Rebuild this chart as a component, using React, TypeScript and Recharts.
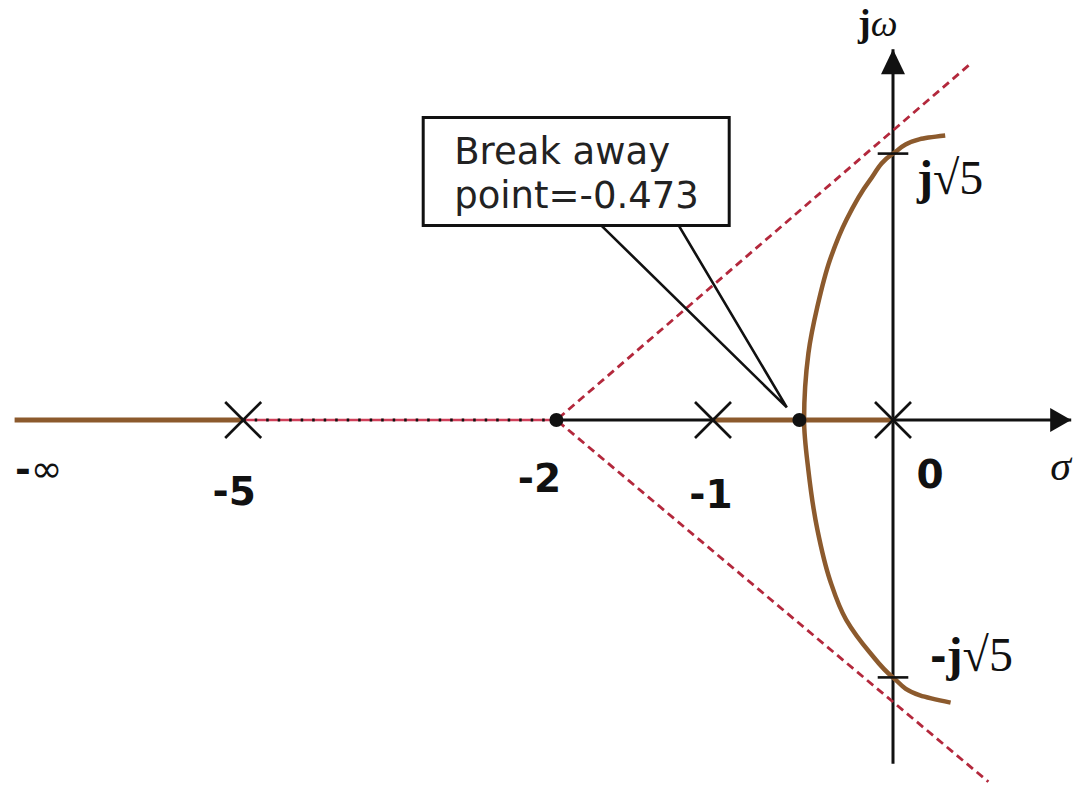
import React from 'react';
import { ComposedChart, Line, Scatter, XAxis, YAxis, ReferenceArea } from 'recharts';

// The sketch is not to scale, so everything is in "sketch units" read off the picture:
// origin at 0, and the pole at -1 sits one unit to the left.
const realLabels = ['-∞', '-5', '-2', '-1', '0'];
const realLabelPos = [-4.88, -3.61, -1.87, -1.0, 0];

const polePos = [-3.61, -1.0, 0];
const locusStart = -4.88;
const centroidPos = -1.87;
const breakawayPos = -0.52;
const breakawayNote = ['Break away', 'point=-0.473'];

const realAxisEnd = 0.99;
const imagAxisTop = 2.06;
const imagAxisBottom = -1.91;
const crossingLabels = ['j√5', '-j√5'];
const crossingPos = [1.48, -1.43];

// complex branch from the top end down through the real axis to the bottom end
const arcX = [0.29, 0.15, 0, -0.13, -0.26, -0.35, -0.42, -0.47, -0.494, -0.47, -0.42, -0.35, -0.26, -0.13, 0, 0.15, 0.32];
const arcY = [1.58, 1.56, 1.48, 1.33, 1.11, 0.89, 0.63, 0.37, 0, -0.28, -0.61, -0.89, -1.11, -1.29, -1.43, -1.53, -1.57];

// asymptote far ends (both start at the centroid)
const asymUpper = [0.42, 1.97];
const asymLower = [0.53, -2.01];

// callout box and its pointer
const noteBoxX = [-2.61, -0.91];
const noteBoxY = [1.08, 1.68];
const pointerX = [-1.62, -0.59, -1.19];
const pointerY = [1.08, 0.07, 1.08];

const BROWN = '#8c5a2d';
const RED = '#b3283c';
const INK = '#111';
const SANS = '"DejaVu Sans", Verdana, sans-serif';
const SERIF = '"Liberation Serif", "DejaVu Serif", serif';

const pt = (x: number, y: number) => ({ x, y });

const leftLocus = [pt(locusStart, 0), pt(polePos[0], 0)];
const midLocus = [pt(polePos[1], 0), pt(polePos[2], 0)];
const dottedSpan = [pt(polePos[0], 0), pt(centroidPos, 0)];
const realAxis = [pt(centroidPos, 0), pt(realAxisEnd, 0)];
const imagAxis = [pt(0, imagAxisBottom), pt(0, imagAxisTop)];
const asymptotes = [pt(asymUpper[0], asymUpper[1]), pt(centroidPos, 0), pt(asymLower[0], asymLower[1])];
const arc = arcX.map((x, i) => pt(x, arcY[i]));
const pointer = pointerX.map((x, i) => pt(x, pointerY[i]));
const poles = polePos.map((x) => pt(x, 0));
const dots = [pt(centroidPos, 0), pt(breakawayPos, 0)];
const tickW = 0.085;

const realNudge: Record<string, [number, number]> = {
  '-∞': [24, 62],
  '-5': [-9, 85],
  '-2': [-17, 72],
  '-1': [-2, 88],
  '0': [37, 68],
};

const Cross = (p: any) => (
  <g stroke={INK} strokeWidth={2.6}>
    <line x1={p.cx - 18} y1={p.cy - 18} x2={p.cx + 18} y2={p.cy + 18} />
    <line x1={p.cx - 18} y1={p.cy + 18} x2={p.cx + 18} y2={p.cy - 18} />
  </g>
);

const Dot = (p: any) => <circle cx={p.cx} cy={p.cy} r={7} fill={INK} />;

const RightArrow = (p: any) => (
  <polygon points={`${p.cx},${p.cy} ${p.cx - 21},${p.cy - 12} ${p.cx - 21},${p.cy + 12}`} fill={INK} />
);
const UpArrow = (p: any) => (
  <polygon points={`${p.cx},${p.cy} ${p.cx - 12},${p.cy + 25} ${p.cx + 12},${p.cy + 25}`} fill={INK} />
);

const RealLabel = (p: any) => {
  const t = p.payload.t as string;
  const [dx, dy] = realNudge[t];
  if (t === '-∞') {
    return (
      <text x={p.cx + dx} y={p.cy + dy} textAnchor="middle" fontFamily={SANS} fontSize={38} fill={INK}>
        <tspan fontWeight="bold">-</tspan>
        <tspan>∞</tspan>
      </text>
    );
  }
  return (
    <text x={p.cx + dx} y={p.cy + dy} textAnchor="middle" fontFamily={SANS} fontWeight="bold" fontSize={39} fill={INK}>
      {t}
    </text>
  );
};

const CrossingLabel = (p: any) => {
  const t = p.payload.t as string;
  const neg = t.startsWith('-');
  return (
    <text x={p.cx + (neg ? 37 : 24)} y={p.cy + (neg ? -6 : 40)} fontFamily={SERIF} fontSize={48} fill={INK}>
      {neg && <tspan fontFamily={SANS} fontWeight="bold" fontSize={40}>-</tspan>}
      <tspan fontWeight="bold">j</tspan>
      <tspan>√5</tspan>
    </text>
  );
};

const AxisName = (p: any) =>
  p.payload.t === 'jw' ? (
    <text x={p.cx - 35} y={p.cy - 13} fontFamily={SERIF} fontSize={38} fill={INK}>
      <tspan fontWeight="bold">j</tspan>
      <tspan fontStyle="italic">ω</tspan>
    </text>
  ) : (
    <text x={p.cx - 21} y={p.cy + 60} fontFamily={SERIF} fontStyle="italic" fontSize={42} fill={INK}>
      σ
    </text>
  );

const NoteText = (p: any) => (
  <text x={p.cx + 31} y={p.cy + 46} fontFamily={SANS} fontSize={37} fill="#222">
    <tspan x={p.cx + 31}>{breakawayNote[0]}</tspan>
    <tspan x={p.cx + 31} dy={44}>{breakawayNote[1]}</tspan>
  </text>
);

const lineBase = { dataKey: 'y', dot: false, activeDot: false, isAnimationActive: false } as const;

export default function App() {
  return (
    <div style={{ position: 'absolute', left: 0, top: 0, width: 1073, height: 785, background: '#fff' }}>
      <ComposedChart width={1073} height={785} margin={{ top: 0, right: 0, bottom: 0, left: 0 }}>
        <XAxis type="number" dataKey="x" domain={[-893 / 180, 1]} allowDataOverflow hide />
        <YAxis type="number" dataKey="y" domain={[-365 / 180, 420 / 180]} allowDataOverflow hide />

        <ReferenceArea
          x1={noteBoxX[0]}
          x2={noteBoxX[1]}
          y1={noteBoxY[0]}
          y2={noteBoxY[1]}
          fill="#fff"
          fillOpacity={1}
          stroke={INK}
          strokeWidth={3}
        />

        <Line {...lineBase} data={dottedSpan} stroke="#d0405a" strokeWidth={2.5} />
        <Line {...lineBase} data={dottedSpan} stroke={INK} strokeWidth={3} strokeDasharray="2.5 9" />
        <Line {...lineBase} data={realAxis} stroke={INK} strokeWidth={3} />
        <Line {...lineBase} data={imagAxis} stroke={INK} strokeWidth={3} />
        <Line {...lineBase} data={asymptotes} stroke={RED} strokeWidth={2.8} strokeDasharray="8 5" />

        <Line {...lineBase} data={leftLocus} stroke={BROWN} strokeWidth={5} />
        <Line {...lineBase} data={midLocus} stroke={BROWN} strokeWidth={5} />
        <Line {...lineBase} data={arc} type="monotoneY" stroke={BROWN} strokeWidth={4.5} />

        {crossingPos.map((y) => (
          <Line {...lineBase} key={y} data={[pt(-tickW, y), pt(tickW, y)]} stroke={INK} strokeWidth={2.6} />
        ))}

        <Line {...lineBase} data={pointer} stroke={INK} strokeWidth={2.6} strokeLinejoin="miter" />

        <Scatter data={poles} dataKey="y" shape={Cross} isAnimationActive={false} />
        <Scatter data={dots} dataKey="y" shape={Dot} isAnimationActive={false} />
        <Scatter data={[pt(realAxisEnd, 0)]} dataKey="y" shape={RightArrow} isAnimationActive={false} />
        <Scatter data={[pt(0, imagAxisTop)]} dataKey="y" shape={UpArrow} isAnimationActive={false} />

        <Scatter
          data={realLabels.map((t, i) => ({ x: realLabelPos[i], y: 0, t }))}
          dataKey="y"
          shape={RealLabel}
          isAnimationActive={false}
        />
        <Scatter
          data={crossingLabels.map((t, i) => ({ x: 0, y: crossingPos[i], t }))}
          dataKey="y"
          shape={CrossingLabel}
          isAnimationActive={false}
        />
        <Scatter
          data={[{ x: 0, y: imagAxisTop, t: 'jw' }, { x: realAxisEnd, y: 0, t: 'sigma' }]}
          dataKey="y"
          shape={AxisName}
          isAnimationActive={false}
        />
        <Scatter data={[pt(noteBoxX[0], noteBoxY[1])]} dataKey="y" shape={NoteText} isAnimationActive={false} />
      </ComposedChart>
    </div>
  );
}
